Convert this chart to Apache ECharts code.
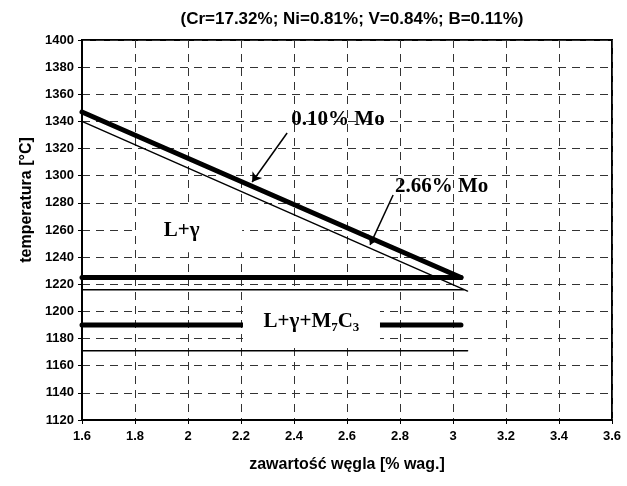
<!DOCTYPE html>
<html>
<head>
<meta charset="utf-8">
<script src="https://cdn.jsdelivr.net/npm/echarts@6/dist/echarts.min.js"></script>
<style>
  html, body { margin: 0; padding: 0; background: #fff; }
  #chart { width: 627px; height: 486px; }
</style>
</head>
<body>
<div id="chart"></div>
<script>
// axis ranges
var xMin = 1.6, xMax = 3.6, xStep = 0.2;
var yMin = 1120, yMax = 1400, yStep = 20;

// phase boundaries, [carbon %, temperature]
var liquidus010 = [[1.6, 1347], [3.03, 1225]];
var liquidus266 = [[1.6, 1340], [3.055, 1215]];
var eutectic010 = [[1.6, 1225], [3.03, 1225]];
var eutectic266 = [[1.6, 1216], [3.04, 1216]];
var solidus010 = [[1.6, 1190], [3.03, 1190]];
var solidus266 = [[1.6, 1171], [3.055, 1171]];

// arrows from labels to curves
var arrows = [
  [[2.374, 1331.5], [2.242, 1295.4]],
  [[2.774, 1285.8], [2.687, 1249]]
];

// annotation texts and where they sit
var curveLabels = [
  { name: '0.10% Mo', value: [2.566, 1341] },
  { name: '2.66% Mo', value: [2.957, 1292] }
];
var phaseLabels = [
  { name: 'L+γ', value: [2.006, 1261] },
  { name: 'L+γ+M7C3', value: [2.466, 1193.7] }
];

var dom = document.getElementById('chart');
var myChart = echarts.init(dom, null, { renderer: 'canvas' });

var serif = '"Liberation Serif", "Times New Roman", serif';
var sans = '"Liberation Sans", Arial, sans-serif';

function boundary(data, width) {
  return {
    type: 'line',
    data: data,
    symbol: 'none',
    silent: true,
    z: 2,
    lineStyle: { color: '#000', width: width, cap: 'round' }
  };
}

var option = {
  animation: false,
  backgroundColor: '#fff',
  title: {
    text: '(Cr=17.32%; Ni=0.81%; V=0.84%; B=0.11%)',
    left: 347,
    top: 6,
    textAlign: 'center',
    textStyle: { fontFamily: sans, fontSize: 17, fontWeight: 'bold', color: '#000' }
  },
  grid: {
    left: 82, right: 15, top: 40, bottom: 66,
    show: true, borderColor: '#000', borderWidth: 2, backgroundColor: 'transparent'
  },
  xAxis: {
    type: 'value',
    min: xMin, max: xMax, interval: xStep,
    name: 'zawartość węgla [% wag.]',
    nameLocation: 'middle',
    nameGap: 37,
    nameTextStyle: { fontFamily: sans, fontSize: 16, fontWeight: 'bold', color: '#000' },
    axisLine: { show: true, lineStyle: { color: '#000', width: 2 } },
    axisTick: { show: true, length: 4, lineStyle: { color: '#000', width: 1 } },
    axisLabel: { fontFamily: sans, fontSize: 13, fontWeight: 'bold', color: '#000', margin: 10 },
    splitLine: { show: true, lineStyle: { color: '#333', width: 1, type: [8, 6] } }
  },
  yAxis: {
    type: 'value',
    min: yMin, max: yMax, interval: yStep,
    name: 'temperatura [°C]',
    nameLocation: 'middle',
    nameGap: 46,
    nameTextStyle: { fontFamily: sans, fontSize: 16, fontWeight: 'bold', color: '#000', padding: [0, 0, 0, 60] },
    axisLine: { show: true, lineStyle: { color: '#000', width: 2 } },
    axisTick: { show: true, length: 4, lineStyle: { color: '#000', width: 1 } },
    axisLabel: {
      fontFamily: sans, fontSize: 13, fontWeight: 'bold', color: '#000', margin: 8,
      formatter: function (v) { return String(v); }
    },
    splitLine: { show: true, lineStyle: { color: '#333', width: 1, type: [8, 6] } }
  },
  series: [
    boundary(liquidus266, 1.5),
    boundary(liquidus010, 5),
    boundary(eutectic266, 1.5),
    boundary(eutectic010, 5),
    boundary(solidus266, 1.5),
    boundary(solidus010, 5),
    {
      type: 'lines',
      coordinateSystem: 'cartesian2d',
      silent: true,
      z: 4,
      symbol: ['none', 'arrow'],
      symbolSize: 9,
      lineStyle: { color: '#000', width: 1.5, opacity: 1 },
      data: arrows.map(function (a) { return { coords: a }; })
    },
    {
      type: 'scatter',
      silent: true,
      z: 3,
      symbol: 'rect',
      symbolSize: function (v, p) { return p.dataIndex === 0 ? [105, 47] : [137, 56]; },
      itemStyle: { color: '#fff', opacity: 1 },
      label: {
        show: true,
        position: 'inside',
        color: '#000',
        formatter: function (p) {
          if (p.dataIndex === 0) return '{a|L+γ}';
          return '{a|L+γ+M}{s|7}{a|C}{s|3}';
        },
        rich: {
          a: { fontFamily: serif, fontSize: 21, fontWeight: 'bold', color: '#000', lineHeight: 24, verticalAlign: 'bottom' },
          s: { fontFamily: serif, fontSize: 13, fontWeight: 'bold', color: '#000', lineHeight: 15, verticalAlign: 'bottom', padding: [0, 0, -2, 0] }
        }
      },
      labelLayout: function (p) { return p.dataIndex === 0 ? { dx: -8 } : {}; },
      data: phaseLabels
    },
    {
      type: 'scatter',
      silent: true,
      z: 5,
      symbolSize: 0,
      itemStyle: { opacity: 1 },
      label: {
        show: true,
        position: 'inside',
        formatter: '{b}',
        color: '#000',
        fontFamily: serif,
        fontSize: 21,
        fontWeight: 'bold'
      },
      data: curveLabels
    }
  ]
};

myChart.setOption(option);
</script>
</body>
</html>
